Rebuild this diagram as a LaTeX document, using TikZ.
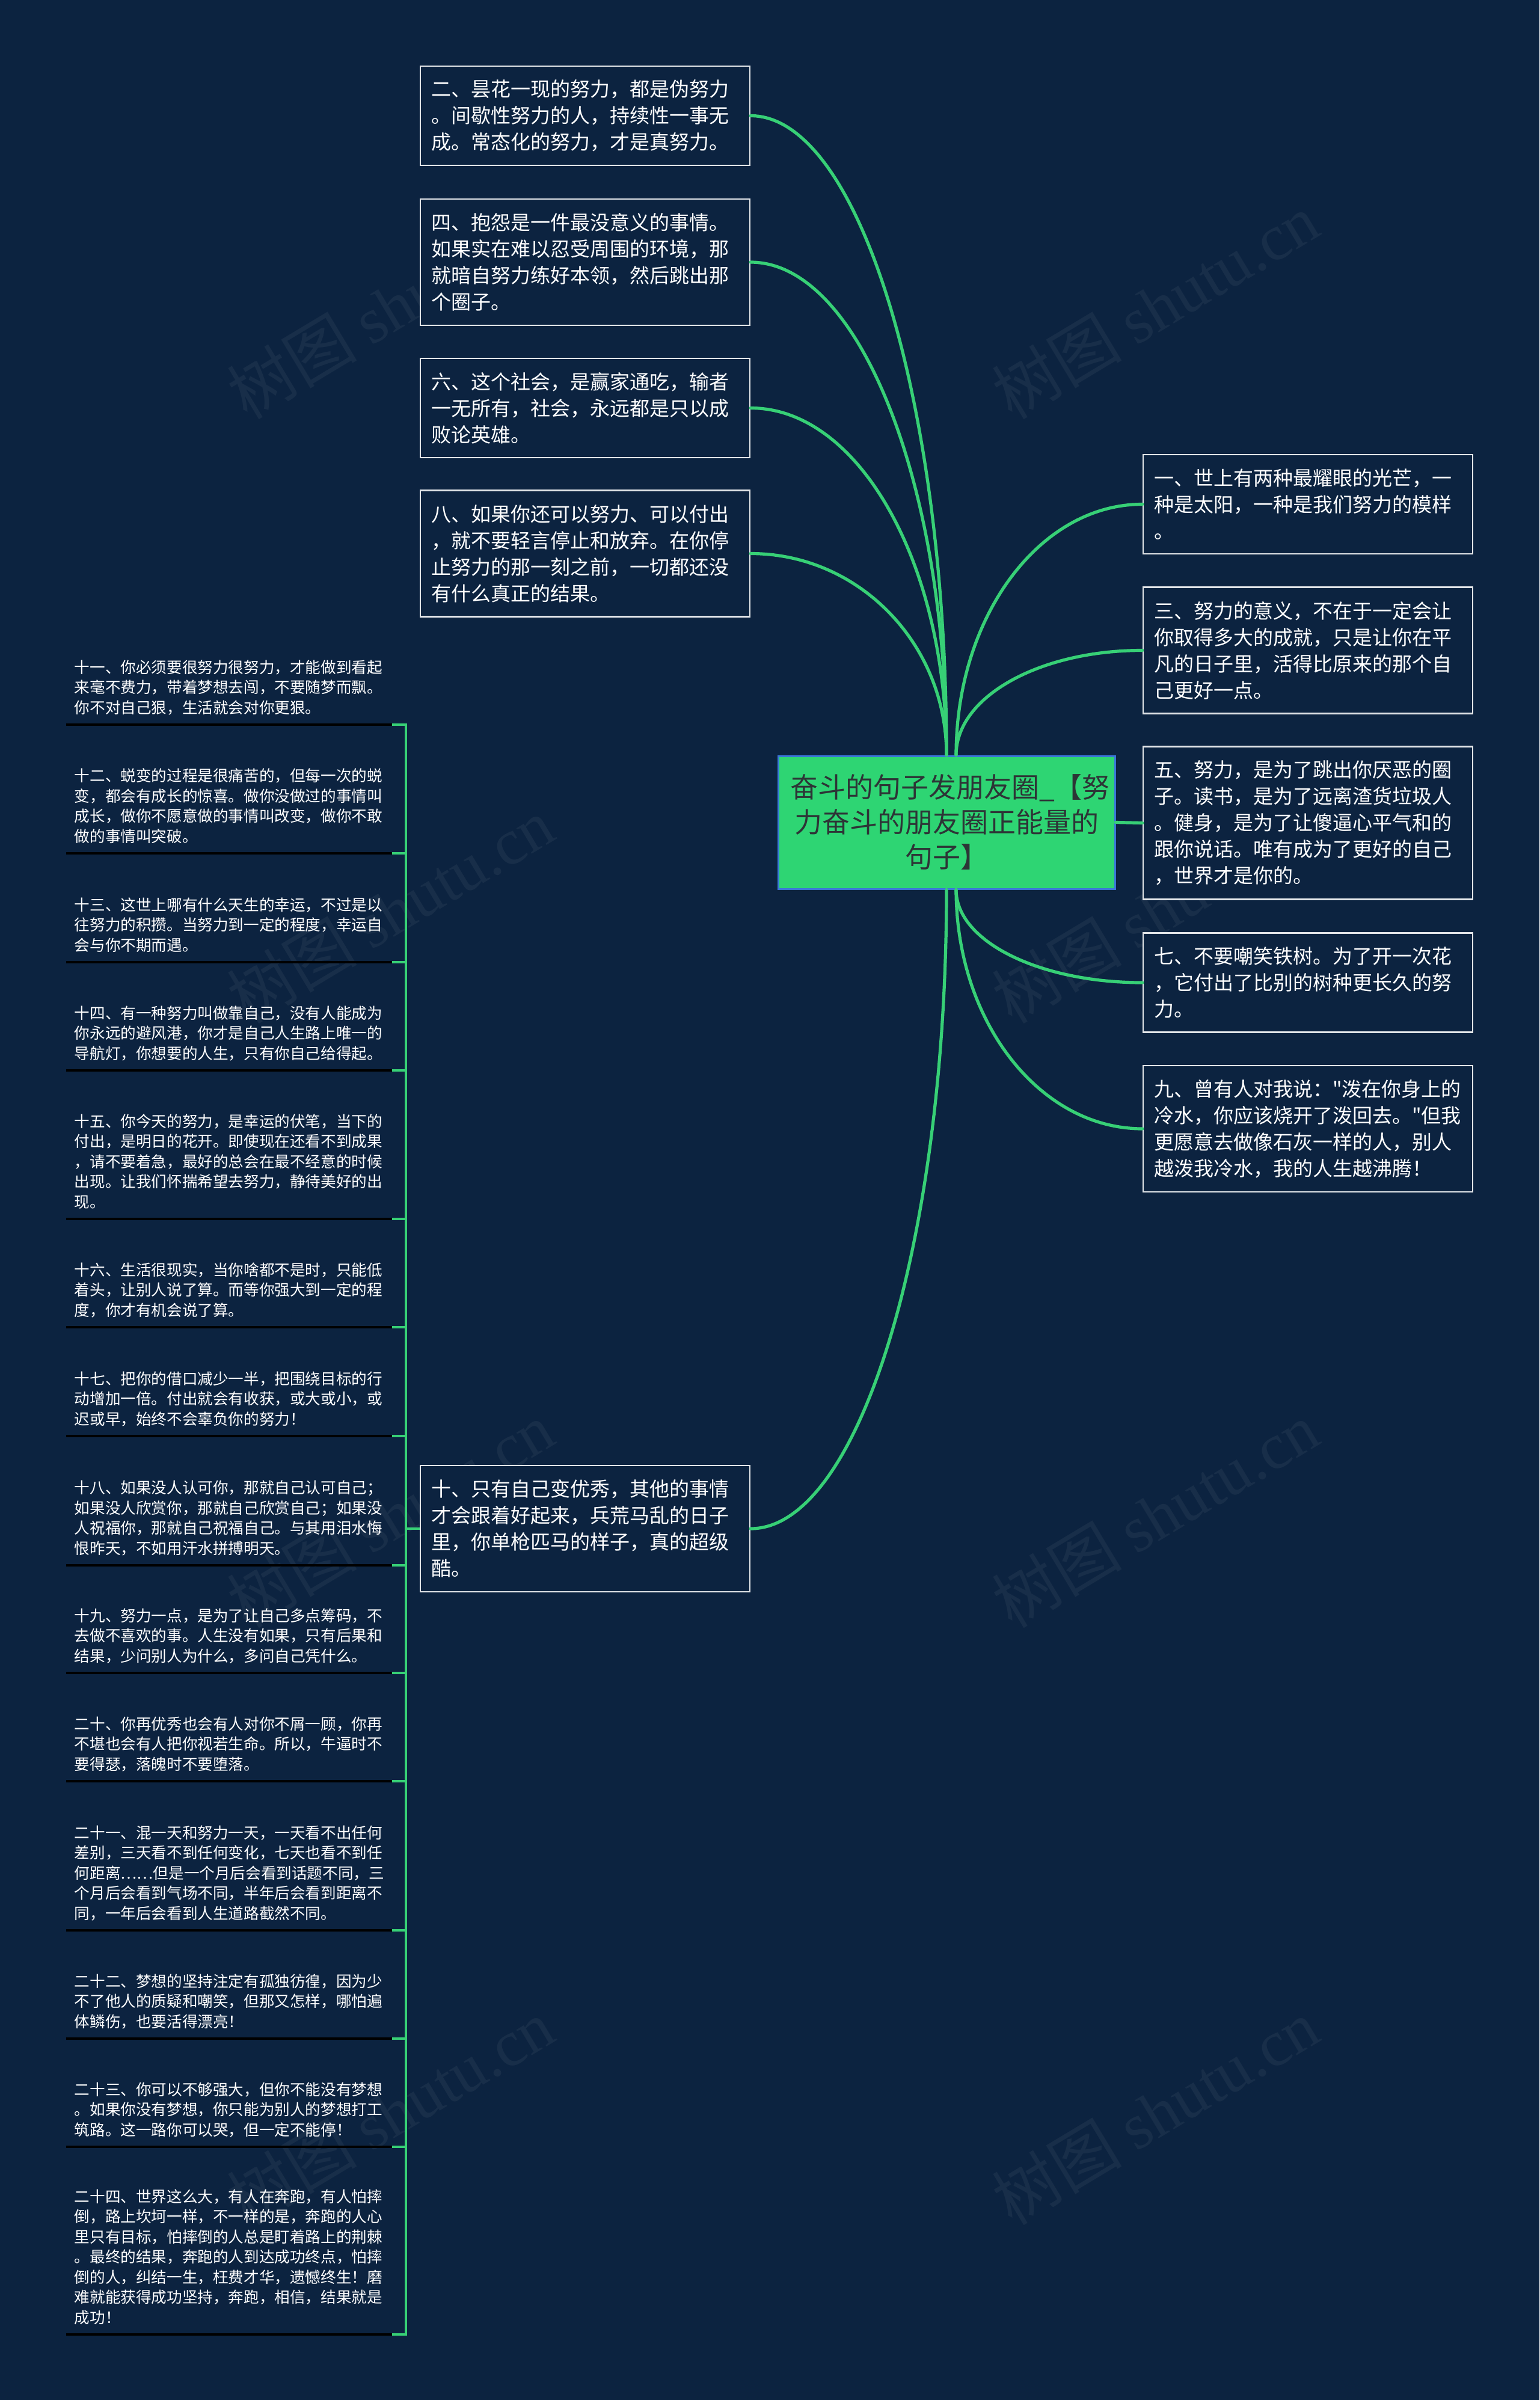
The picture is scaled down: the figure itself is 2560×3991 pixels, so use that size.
\documentclass[tikz,border=0pt]{standalone}
\usepackage{fontspec}
\setmainfont{Noto Sans CJK SC}[Ligatures=TeXOff]
\newfontfamily\wmlatin{Liberation Serif}
\usetikzlibrary{calc}
\definecolor{bg}{RGB}{12,35,64}
\definecolor{gline}{RGB}{55,208,118}
\definecolor{cfill}{RGB}{46,213,115}
\definecolor{cborder}{RGB}{58,118,214}
\definecolor{ctext}{RGB}{45,52,54}
\colorlet{wmc}{bg!95!white}
\newcommand\lend{\rule[-0.25em]{0pt}{0pt}}
\tikzset{
 box/.style={draw=white!88!bg, line width=0.6pt, fill=bg, text=white, font=\fontsize{8.25pt}{11pt}\selectfont, align=left, text width=128pt, inner xsep=4.5pt, inner ysep=0pt},
 hthree/.style={minimum height=41.25pt},
 hfour/.style={minimum height=52.5pt},
 hfive/.style={minimum height=63.5pt},
 leaf/.style={anchor=south west, text=white, font=\fontsize{6.4pt}{8.375pt}\selectfont, align=left, text width=128.5pt, inner xsep=3.25pt, inner ysep=2.9pt},
 gr/.style={draw=gline, line width=1.3pt, line cap=round},
 grs/.style={draw=gline, line width=1.1pt},
 ul/.style={draw=black, line width=1pt},
 cnode/.style={draw=cborder, line width=0.75pt, fill=cfill, text=ctext, font=\fontsize{11.5pt}{14.5pt}\selectfont, align=center, text width=130pt, minimum width=140pt, minimum height=55.25pt, inner sep=0pt},
 wm/.style={text=wmc, font=\fontsize{27pt}{27pt}\selectfont, rotate=31, inner sep=0pt}
}
\begin{document}
\begin{tikzpicture}[x=0.25pt,y=-0.25pt]
\useasboundingbox (0,0) rectangle (2560,3991);
\fill[bg] (0,0) rectangle (2560,3991);
% watermarks
\foreach \wy [count=\i] in {509,1514,2519,3512}{
  \node[wm] (wmL\i) at (649,\wy) {树图 {\wmlatin shutu.cn}};
  \node[wm] (wmR\i) at (1921,\wy) {树图 {\wmlatin shutu.cn}};
}
% central node
\node[cnode] (c) at (1574,1367.5) {奋斗的句子发朋友圈\_【努\\力奋斗的朋友圈正能量的\\句子】};
% left second-level boxes
\node[box,hthree] (b2) at (973,192.5) {二、昙花一现的努力，都是伪努力\\。间歇性努力的人，持续性一事无\\成。常态化的努力，才是真努力。};
\node[box,hfour] (b4) at (973,436) {四、抱怨是一件最没意义的事情。\\如果实在难以忍受周围的环境，那\\就暗自努力练好本领，然后跳出那\\个圈子。};
\node[box,hthree] (b6) at (973,678.5) {六、这个社会，是赢家通吃，输者\\一无所有，社会，永远都是只以成\\败论英雄。};
\node[box,hfour] (b8) at (973,920.5) {八、如果你还可以努力、可以付出\\，就不要轻言停止和放弃。在你停\\止努力的那一刻之前，一切都还没\\有什么真正的结果。};
\node[box,hfour] (b10) at (973,2542) {十、只有自己变优秀，其他的事情\\才会跟着好起来，兵荒马乱的日子\\里，你单枪匹马的样子，真的超级\\酷。};
% right second-level boxes
\node[box,hthree] (b1) at (2175,838.5) {一、世上有两种最耀眼的光芒，一\\种是太阳，一种是我们努力的模样\\。};
\node[box,hfour] (b3) at (2175,1081.5) {三、努力的意义，不在于一定会让\\你取得多大的成就，只是让你在平\\凡的日子里，活得比原来的那个自\\己更好一点。};
\node[box,hfive] (b5) at (2175,1368.5) {五、努力，是为了跳出你厌恶的圈\\子。读书，是为了远离渣货垃圾人\\。健身，是为了让傻逼心平气和的\\跟你说话。唯有成为了更好的自己\\，世界才是你的。};
\node[box,hthree] (b7) at (2175,1634) {七、不要嘲笑铁树。为了开一次花\\，它付出了比别的树种更长久的努\\力。};
\node[box,hfour] (b9) at (2175,1877) {九、曾有人对我说："泼在你身上的\\冷水，你应该烧开了泼回去。"但我\\更愿意去做像石灰一样的人，别人\\越泼我冷水，我的人生越沸腾！};
% connectors from central node
\draw[gr] (c.north) .. controls +(0,-586) and +(180,0) .. (b2.east);
\draw[gr] (c.north) .. controls +(0,-452) and +(180,0) .. (b4.east);
\draw[gr] (c.north) .. controls +(0,-318) and +(180,0) .. (b6.east);
\draw[gr] (c.north) .. controls +(0,-185) and +(180,0) .. (b8.east);
\draw[gr] (c.south) .. controls +(0,585) and +(180,0) .. (b10.east);
\coordinate (cn) at ($(c.north)+(16,0)$);
\coordinate (cs) at ($(c.south)+(16,0)$);
\draw[gr] (cn) .. controls +(0,-230) and +(-171,0) .. (b1.west);
\draw[gr] (cn) .. controls +(0,-97) and +(-171,0) .. (b3.west);
\draw[gr] (c.east) -- (b5.west);
\draw[gr] (cs) .. controls +(0,86) and +(-171,0) .. (b7.west);
\draw[gr] (cs) .. controls +(0,219) and +(-171,0) .. (b9.west);
% leaves
\node[leaf] (l11) at (110,1205) {十一、你必须要很努力很努力，才能做到看起\\来毫不费力，带着梦想去闯，不要随梦而飘。\\你不对自己狠，生活就会对你更狠。\lend};
\node[leaf] (l12) at (110,1419) {十二、蜕变的过程是很痛苦的，但每一次的蜕\\变，都会有成长的惊喜。做你没做过的事情叫\\成长，做你不愿意做的事情叫改变，做你不敢\\做的事情叫突破。\lend};
\node[leaf] (l13) at (110,1600) {十三、这世上哪有什么天生的幸运，不过是以\\往努力的积攒。当努力到一定的程度，幸运自\\会与你不期而遇。\lend};
\node[leaf] (l14) at (110,1780) {十四、有一种努力叫做靠自己，没有人能成为\\你永远的避风港，你才是自己人生路上唯一的\\导航灯，你想要的人生，只有你自己给得起。\lend};
\node[leaf] (l15) at (110,2027) {十五、你今天的努力，是幸运的伏笔，当下的\\付出，是明日的花开。即使现在还看不到成果\\，请不要着急，最好的总会在最不经意的时候\\出现。让我们怀揣希望去努力，静待美好的出\\现。\lend};
\node[leaf] (l16) at (110,2207) {十六、生活很现实，当你啥都不是时，只能低\\着头，让别人说了算。而等你强大到一定的程\\度，你才有机会说了算。\lend};
\node[leaf] (l17) at (110,2388) {十七、把你的借口减少一半，把围绕目标的行\\动增加一倍。付出就会有收获，或大或小，或\\迟或早，始终不会辜负你的努力！\lend};
\node[leaf] (l18) at (110,2603) {十八、如果没人认可你，那就自己认可自己；\\如果没人欣赏你，那就自己欣赏自己；如果没\\人祝福你，那就自己祝福自己。与其用泪水悔\\恨昨天，不如用汗水拼搏明天。\lend};
\node[leaf] (l19) at (110,2782) {十九、努力一点，是为了让自己多点筹码，不\\去做不喜欢的事。人生没有如果，只有后果和\\结果，少问别人为什么，多问自己凭什么。\lend};
\node[leaf] (l20) at (110,2962) {二十、你再优秀也会有人对你不屑一顾，你再\\不堪也会有人把你视若生命。所以，牛逼时不\\要得瑟，落魄时不要堕落。\lend};
\node[leaf] (l21) at (110,3210) {二十一、混一天和努力一天，一天看不出任何\\差别，三天看不到任何变化，七天也看不到任\\何距离……但是一个月后会看到话题不同，三\\个月后会看到气场不同，半年后会看到距离不\\同，一年后会看到人生道路截然不同。\lend};
\node[leaf] (l22) at (110,3390) {二十二、梦想的坚持注定有孤独彷徨，因为少\\不了他人的质疑和嘲笑，但那又怎样，哪怕遍\\体鳞伤，也要活得漂亮！\lend};
\node[leaf] (l23) at (110,3570) {二十三、你可以不够强大，但你不能没有梦想\\。如果你没有梦想，你只能为别人的梦想打工\\筑路。这一路你可以哭，但一定不能停！\lend};
\node[leaf] (l24) at (110,3882) {二十四、世界这么大，有人在奔跑，有人怕摔\\倒，路上坎坷一样，不一样的是，奔跑的人心\\里只有目标，怕摔倒的人总是盯着路上的荆棘\\。最终的结果，奔跑的人到达成功终点，怕摔\\倒的人，纠结一生，枉费才华，遗憾终生！磨\\难就能获得成功坚持，奔跑，相信，结果就是\\成功！\lend};
% underlines and bracket
\foreach \n in {11,...,24}{
  \draw[ul] (l\n.south west) -- (l\n.south east);
  \coordinate (k\n) at (675,0 |- l\n.south east);
}
\draw[grs, line join=miter] (l11.south east) -- (k11) -- (k24) -- (l24.south east);
\foreach \n in {12,...,23}{
  \draw[grs] (l\n.south east) -- (k\n);
}
\coordinate (k10) at (675,0 |- b10.west);
\draw[grs] (k10) -- (b10.west);
\end{tikzpicture}
\end{document}
